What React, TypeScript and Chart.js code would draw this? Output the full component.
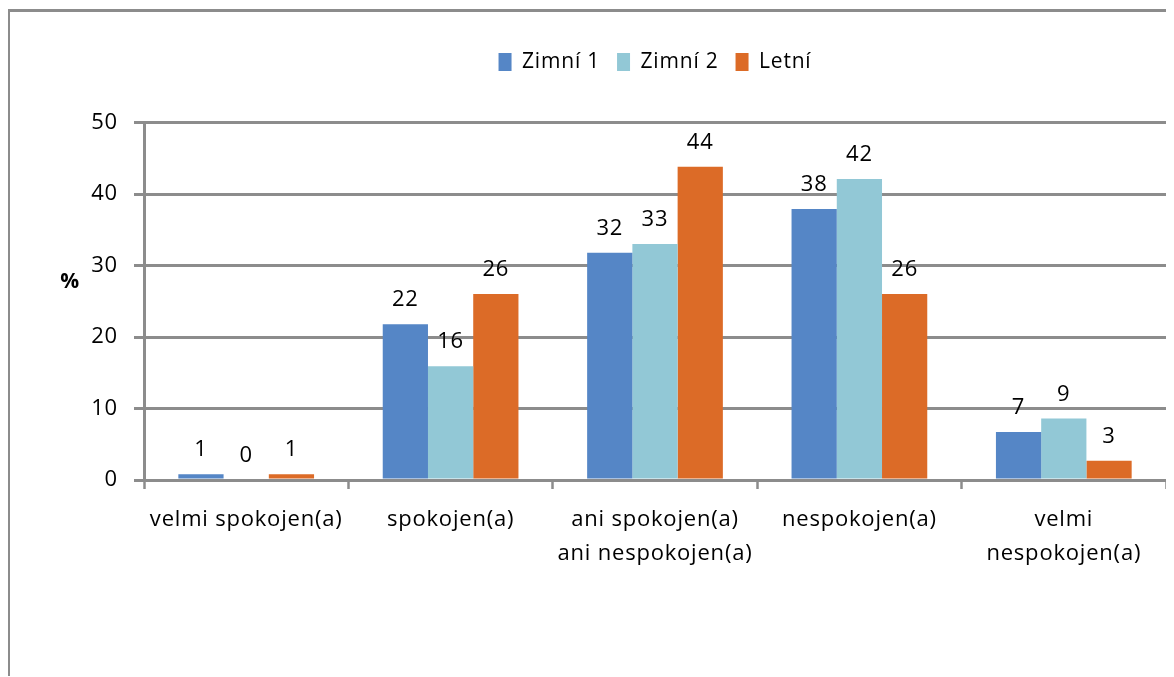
import React, { useEffect, useRef } from 'react';
import { Chart, registerables } from 'chart.js';

Chart.register(...registerables);

const categories: (string | string[])[] = [
  'velmi spokojen(a)',
  'spokojen(a)',
  ['ani spokojen(a)', 'ani nespokojen(a)'],
  'nespokojen(a)',
  ['velmi', 'nespokojen(a)'],
];
const seriesNames = ['Zimní 1', 'Zimní 2', 'Letní'];
const zimni1 = [0.8, 21.8, 31.8, 37.9, 6.7];
const zimni2 = [0, 15.9, 33.0, 42.1, 8.6];
const letni = [0.8, 26.0, 43.8, 26.0, 2.7];
const yTicks = [0, 10, 20, 30, 40, 50];
const yAxisTitle = '%';

const colors = ['#5586C6', '#92C8D6', '#DC6B27'];
const GRID = '#8c8c8c';
const FONT = "'Open Sans', 'DejaVu Sans', sans-serif";
const SPACING = '0.8px';
const LEGEND_EXTRA = 40;

const stylingPlugin = {
  id: 'stylingPlugin',
  beforeLayout(chart: any) {
    chart.ctx.letterSpacing = SPACING;
    const lg = chart.legend;
    if (lg && !lg.__patched) {
      const orig = lg.fit;
      lg.fit = function () {
        orig.call(this);
        this.height += LEGEND_EXTRA;
      };
      lg.__patched = true;
    }
  },
  beforeDraw(chart: any) {
    chart.ctx.letterSpacing = SPACING;
  },
  afterDatasetsDraw(chart: any) {
    const ctx = chart.ctx;
    ctx.save();
    ctx.letterSpacing = SPACING;
    ctx.font = `22px ${FONT}`;
    ctx.fillStyle = '#000';
    ctx.textAlign = 'center';
    ctx.textBaseline = 'alphabetic';
    chart.data.datasets.forEach((ds: any, i: number) => {
      const meta = chart.getDatasetMeta(i);
      meta.data.forEach((bar: any, j: number) => {
        const v = ds.data[j] as number;
        ctx.fillText(String(Math.round(v)), bar.x, bar.y - 18);
      });
    });
    ctx.font = `bold 21px ${FONT}`;
    ctx.textBaseline = 'middle';
    ctx.fillText(yAxisTitle, chart.chartArea.left - 74, 270);
    ctx.restore();
  },
};

export default function App() {
  const ref = useRef<HTMLCanvasElement | null>(null);

  useEffect(() => {
    if (!ref.current) return;
    const series = [zimni1, zimni2, letni];
    const chart = new Chart(ref.current, {
      type: 'bar',
      data: {
        labels: categories as any,
        datasets: series.map((d, i) => ({
          label: seriesNames[i],
          data: d,
          backgroundColor: colors[i],
          borderWidth: 0,
          categoryPercentage: 0.664,
          barPercentage: 1,
        })),
      },
      options: {
        animation: false,
        responsive: true,
        maintainAspectRatio: false,
        events: [],
        layout: { padding: { top: 22.5, right: 7, left: 0, bottom: 0 } },
        plugins: {
          tooltip: { enabled: false },
          title: { display: false },
          legend: {
            display: true,
            position: 'top',
            fullSize: false,
            labels: {
              boxWidth: 13,
              boxHeight: 18,
              padding: 17,
              color: '#000',
              font: { family: FONT, size: 21 },
            },
          },
        },
        scales: {
          x: {
            grid: {
              display: true,
              drawOnChartArea: false,
              drawTicks: true,
              tickLength: 9,
              tickWidth: 2.5,
              tickColor: GRID,
              color: GRID,
              offset: true,
            },
            border: { display: true, color: GRID, width: 3 },
            ticks: {
              color: '#000',
              font: { family: FONT, size: 22, lineHeight: 1.55 },
              padding: 14,
              maxRotation: 0,
              minRotation: 0,
              autoSkip: false,
            },
            afterFit: (s: any) => {
              s.height = 197;
            },
          },
          y: {
            min: yTicks[0],
            max: yTicks[yTicks.length - 1],
            ticks: {
              stepSize: yTicks[1] - yTicks[0],
              color: '#000',
              font: { family: FONT, size: 22 },
              padding: 16,
            },
            grid: {
              color: GRID,
              lineWidth: 3,
              tickLength: 10,
              drawTicks: true,
              tickColor: GRID,
            },
            border: { display: true, color: GRID, width: 3 },
            afterFit: (s: any) => {
              s.width = 134;
            },
          },
        },
      },
      plugins: [stylingPlugin],
    } as any);
    return () => chart.destroy();
  }, []);

  return (
    <div
      style={{
        position: 'relative',
        left: -1,
        top: 1,
        width: 1166,
        height: 668,
        boxSizing: 'border-box',
        borderTop: `3px solid ${GRID}`,
        borderLeft: `3px solid ${GRID}`,
        background: '#fff',
      }}
    >
      <div style={{ position: 'relative', width: 1163, height: 665 }}>
        <canvas ref={ref} />
      </div>
    </div>
  );
}
